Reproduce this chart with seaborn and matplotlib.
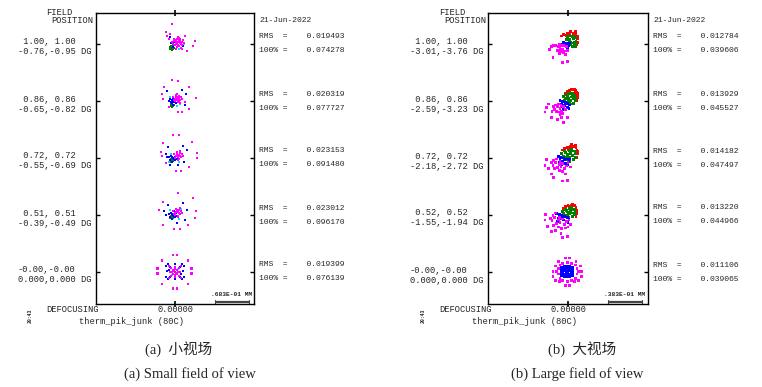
import matplotlib
matplotlib.use("Agg")
import matplotlib.pyplot as plt
import numpy as np
import pandas as pd
import seaborn as sns
from matplotlib.transforms import blended_transform_factory, offset_copy

sns.set_style("white")
plt.rcParams["font.family"] = ["Liberation Mono", "DejaVu Sans Mono"]

W, H = 762, 387

# ---- data: spot offsets in micrometres, one list per field (top to bottom) ----
SMALL_ANGLES = [(" 1.00, 1.00", "-0.76,-0.95 DG"),
                (" 0.86, 0.86", "-0.65,-0.82 DG"),
                (" 0.72, 0.72", "-0.55,-0.69 DG"),
                (" 0.51, 0.51", "-0.39,-0.49 DG"),
                ("-0.00,-0.00", "0.000,0.000 DG")]
LARGE_ANGLES = [(" 1.00, 1.00", "-3.01,-3.76 DG"),
                (" 0.86, 0.86", "-2.59,-3.23 DG"),
                (" 0.72, 0.72", "-2.18,-2.72 DG"),
                (" 0.52, 0.52", "-1.55,-1.94 DG"),
                ("-0.00,-0.00", "0.000,0.000 DG")]

SMALL_RMS = ["0.019493", "0.020319", "0.023153", "0.023012", "0.019399"]
SMALL_100 = ["0.074278", "0.077727", "0.091480", "0.096170", "0.076139"]
LARGE_RMS = ["0.012784", "0.013929", "0.014182", "0.013220", "0.011106"]
LARGE_100 = ["0.039606", "0.045527", "0.047497", "0.044966", "0.039065"]

SMALL_SCALE = ".683E-01 MM"
LARGE_SCALE = ".383E-01 MM"
SMALL_BAR_UM = 68.3
LARGE_BAR_UM = 38.3

SMALL_MAGENTA = [
    [(6, 4), (2, 2), (10, 6), (12, 0), (8, -4), (14, 4), (4, 10), (-2, 6), (8, 12), (16, 8),
     (4, -6), (12, -8), (0, -2), (-4, 0), (6, 14), (18, 2), (2, -10), (10, 2), (-6, 4), (14, -2),
     (0, 8), (4, 0), (8, 8), (10, 10), (6, -2), (2, 6), (12, 4), (-2, 10),
     (-6, 40), (-18, 24), (-16, 16), (40, 6), (36, -4), (24, -14), (14, -10), (-10, 20),
     (20, 16), (-12, 10)],
    [(-6, 42), (6, 40), (28, 28), (-22, 28), (-26, 14), (42, 6), (-24, 4), (28, -16), (6, -22),
     (14, -22), (-12, -12), (20, -2), (4, 6), (0, 4), (8, 10), (10, 2), (6, -2), (12, 8), (2, 12),
     (-4, 8), (14, 4), (8, 0), (0, 0), (4, 14), (10, -4), (-2, 2), (6, 8), (4, 2), (8, 4),
     (2, 8), (10, 8)],
    [(-4, 46), (8, 46), (-24, 30), (34, 32), (-28, 12), (44, 10), (-26, 4), (44, 0), (-18, -10),
     (28, -18), (2, -26), (12, -26), (6, 6), (2, 4), (10, 10), (12, 2), (8, -2), (14, 8), (4, 12),
     (-2, 8), (10, 14), (0, 0), (6, -4), (16, 4), (4, 8), (8, 6), (6, 2), (10, 4)],
    [(6, 44), (-24, 26), (36, 34), (-32, 10), (42, 8), (40, -6), (-24, -20), (26, -20), (-2, -28),
     (10, -28), (4, 6), (0, 4), (8, 10), (10, 2), (6, -2), (12, 8), (2, 12), (-4, 8), (10, 14),
     (0, 0), (6, -4), (14, 4), (-2, 2), (4, 10), (8, 4), (6, 8), (2, 6)],
    [(-4, 34), (4, 34), (-26, 23), (26, 23), (-35, 7), (33, 7), (-35, -3), (33, -3), (-26, -24),
     (26, -24), (-4, -33), (4, -33), (-12, 12), (12, 12), (-12, -12), (12, -12), (-8, 8), (8, 8),
     (-8, -8), (8, -8), (-4, 4), (4, 4), (-4, -4), (4, -4), (0, 6), (0, -6), (6, 0), (-6, 0),
     (0, 10), (0, -10), (10, 0), (-10, 0), (-2, 2), (2, -2)],
]
SMALL_BLUE = [
    [(-10, 14), (6, 12), (-4, -6), (10, 6), (-8, 2), (16, -4), (2, 0), (-2, 4)],
    [(-16, 20), (14, 22), (22, 14), (-12, 0), (20, -8), (-4, -8), (-6, 2), (-2, -2), (-8, -2),
     (0, 4), (-4, 6), (2, -4), (-10, 4), (-6, -4), (-4, 0), (-2, 2)],
    [(-14, 22), (16, 24), (24, 16), (-16, 2), (18, -8), (-10, -14), (6, -14), (-18, 8), (-4, 0),
     (-8, 4), (0, -4), (-10, -4), (2, 4), (-6, -8), (-2, 8), (4, -2), (-12, 2), (0, 2), (-6, 2),
     (-2, -2)],
    [(-14, 20), (16, 24), (24, 10), (-18, 0), (20, -10), (4, -16), (-22, 8), (-4, 0), (-8, 4),
     (0, -4), (-10, -4), (2, 4), (-6, -8), (-2, 8), (4, -2), (-12, 2), (0, 2), (-6, 2), (-2, -2)],
    [(-14, 16), (14, 16), (-14, -14), (14, -14), (-18, 12), (18, 12), (-18, -10), (18, -10),
     (-16, 2), (16, 2), (0, 16), (0, -14), (-10, 10), (10, 10), (-10, -10), (10, -10), (-12, 4),
     (12, -4)],
]
SMALL_GREEN = [
    [(-6, -8), (-10, -6), (-4, -4), (-8, -10), (-2, -8), (-6, -12), (-10, -10), (-4, -10),
     (-8, -4), (-6, -6), (-8, -8), (-4, -7)],
    [(-6, -8), (-8, -6), (-4, -10), (-8, -10), (-6, -12), (-2, -8), (-6, -5)],
    [(-6, -4), (-8, -2), (-4, -6), (-10, -6), (-7, -7)],
    [(-6, -4), (-8, -2), (-4, -6), (-10, -6), (-6, -8)],
    [],
]
SMALL_CYAN = [
    [(12, -8), (-2, 10), (8, -10), (18, 0)],
    [(10, -6), (-10, 8), (4, -10)],
    [(8, -8), (-8, 8), (-12, -8)],
    [(8, -8), (-10, 10), (12, 12)],
    [(-6, -6), (6, 6)],
]
SMALL_RED = [[], [], [], [], [(0, 0), (-2, 2), (2, -2)]]

LARGE_RED = [
    [(-5, 11), (-1, 12), (2, 12), (6, 12), (9, 11), (10, 9), (11, 6), (11, 2), (10, -1), (-7, 9),
     (3, 14), (8, 14), (11, 8), (-2, 10), (7, 10)],
    [(-1, 11), (2, 12), (5, 13), (8, 12), (10, 10), (11, 7), (11, 4), (10, 1), (-3, 9), (4, 14),
     (7, 14), (11, 9), (1, 10), (8, 9)],
    [(-4, 11), (-1, 12), (3, 13), (6, 13), (9, 12), (10, 9), (11, 5), (10, 1), (-6, 9), (4, 15),
     (8, 14), (11, 7), (1, 11)],
    [(-3, 9), (0, 10), (4, 11), (7, 10), (9, 8), (10, 5), (10, 1), (9, -2), (-5, 7), (5, 12),
     (10, 3), (2, 9)],
    [(-1, 0)],
]
LARGE_GREEN = [
    [(-1, 8), (2, 9), (6, 9), (8, 7), (9, 3), (9, 0), (8, -3), (5, -3), (1, -1), (-2, 5), (2, 5),
     (6, 6), (7, 2), (5, 1), (7, -1), (0, 7), (3, 2), (5, 8), (1, 2), (3, -1)],
    [(-5, 6), (-2, 8), (2, 9), (5, 9), (7, 7), (8, 4), (8, 1), (6, -2), (3, -3), (0, -1), (-3, 3),
     (1, 4), (4, 5), (6, 3), (3, 1), (-1, 6), (2, 0), (5, 7), (-4, 1), (0, 2)],
    [(-7, 5), (-4, 8), (0, 9), (4, 10), (7, 8), (8, 5), (8, 1), (6, -2), (2, -4), (-1, -2), (-5, 2),
     (-1, 4), (3, 5), (5, 3), (2, 1), (-3, 6), (0, 0), (5, 8), (-6, 0), (2, 8), (-2, 1)],
    [(-6, 4), (-3, 6), (1, 7), (4, 8), (7, 6), (8, 3), (7, 0), (5, -2), (1, -3), (-2, -1), (-5, 1),
     (-1, 3), (3, 4), (5, 2), (2, 1), (-2, 5), (0, 0), (4, 6)],
    [(-1, 0), (-2, 1), (0, -1)],
]
LARGE_BLUE = [
    [(-5, 2), (-2, 1), (0, 0), (-3, -2), (1, -2), (-1, -5), (-6, 0), (2, 1), (-2, -1), (0, -3)],
    [(-9, 1), (-6, 0), (-3, -1), (0, -2), (2, -4), (-7, -3), (-4, -5), (-1, -7), (-8, -6), (-5, -9),
     (1, -8), (-3, -3)],
    [(-11, 2), (-8, 1), (-5, 0), (-2, -1), (1, -3), (-9, -2), (-6, -4), (-3, -6), (-10, -5),
     (0, -7), (-7, -7), (-4, -2), (2, -1)],
    [(-13, 1), (-10, 0), (-7, -1), (-4, -2), (-1, -3), (1, -5), (-11, -4), (-8, -5), (-5, -6),
     (-2, -8), (-12, -8), (0, -9), (-6, -3)],
    [(-7, 5), (-4, 6), (-1, 6), (2, 6), (5, 5), (-7, 2), (5, 2), (-7, -1), (5, -1), (-7, -4),
     (5, -4), (-4, -5), (-1, -5), (2, -5), (-4, 2), (2, 2), (-4, -2), (2, -2), (-1, 3), (-1, -2),
     (-4, 4), (2, 4), (-6, 0), (4, 0), (-2, 0), (0, 0), (-4, -4), (2, -4), (-1, 1)],
]
LARGE_CYAN = [[], [], [], [], []]
LARGE_MAGENTA = [
    [(-9, -5), (-6, -6), (-11, -3), (-3, -8), (-7, -9), (-12, -7), (-2, -3), (-10, -1), (-5, -2),
     (-8, -7), (-14, -2), (-7, -2), (-5, -10), (-9, -8), (-1, -7), (-21, -6), (-17, -15), (-6, -21),
     (-1, -20), (-3, -12), (-16, -2), (-19, -3), (-10, -11)],
    [(-12, -6), (-9, -8), (-14, -4), (-7, -11), (-10, -12), (-15, -9), (-5, -6), (-11, -3),
     (-8, -5), (-13, -11), (-6, -14), (-3, -9), (-9, -15), (-16, -6), (-24, -7), (-22, -3),
     (-19, -18), (-7, -18), (-5, -24), (-1, -18), (-18, -11), (-26, -12), (-12, -20)],
    [(-14, -5), (-10, -7), (-16, -3), (-8, -10), (-12, -11), (-17, -8), (-6, -6), (-13, -1),
     (-9, -4), (-15, -12), (-4, -12), (-2, -9), (-10, -14), (-19, -5), (0, -5), (3, -10), (-6, -15),
     (-26, -8), (-24, -2), (-19, -18), (-6, -26), (-1, -25), (-22, -12), (-3, -18), (-16, -22)],
    [(-15, -3), (-11, -6), (-17, -1), (-9, -9), (-13, -10), (-18, -7), (-6, -5), (-14, 2),
     (-10, -3), (-16, -12), (-4, -11), (-2, -8), (-11, -14), (-20, -4), (1, -6), (3, -11),
     (-7, -16), (-3, -15), (0, -14), (-26, -6), (-25, 0), (-19, -19), (-6, -26), (-1, -25),
     (-23, -13), (-8, -21), (-14, -18)],
    [(-3, 16), (2, 16), (-11, 12), (9, 12), (-14, 7), (14, 7), (-17, 1), (15, 1), (-17, -5),
     (15, -5), (-14, -9), (12, -9), (-10, -11), (7, -11), (-3, -15), (2, -15), (-11, 4), (-11, -2),
     (10, 4), (10, -2), (-6, 10), (4, 10), (-6, -9), (4, -9), (-9, 8), (8, 8), (-9, -7), (8, -7),
     (-1, 11), (-1, -11), (-13, 1), (12, 1)],
]

COLORS = {"red": "#ff0000", "green": "#008000", "blue": "#0000ff",
          "cyan": "#00e0ff", "magenta": "#ff00ff"}

mono = ["Liberation Mono", "DejaVu Sans Mono"]
serif_cjk = ["Liberation Serif", "Noto Sans CJK SC"]


def spot_frame(centers, colour_lists):
    rows = []
    for name, lists in colour_lists:
        for yc, pts in zip(centers, lists):
            for dx, dy in pts:
                rows.append((dx, yc + dy, name))
    return pd.DataFrame(rows, columns=["x", "y", "wave"])


def fig_xy(x_px, y_px):
    return x_px / W, 1 - y_px / H


def draw_panel(fig, rect, xlim, ylim, centers, colour_lists, angles, rms, full,
               scale_text, bar_um, bar_x0, left_px, right_px, foot_px, caption_cn, caption_en,
               cap_cx):
    ax = fig.add_axes(rect)
    df = spot_frame(centers, colour_lists)
    sns.scatterplot(data=df, x="x", y="y", hue="wave", palette=COLORS, marker="s",
                    s=4, linewidth=0, legend=False, ax=ax)
    ax.set_xlim(*xlim)
    ax.set_ylim(*ylim)
    ax.set_xlabel("")
    ax.set_ylabel("")
    for sp in ax.spines.values():
        sp.set_color("black")
        sp.set_linewidth(1.0)
    ax.set_yticks(centers)
    ax.set_yticklabels([])
    ax.tick_params(axis="y", direction="in", length=3, width=1, left=True, right=True,
                   colors="black")
    ax.set_xticks([0])
    ax.set_xticklabels([])
    ax.tick_params(axis="x", direction="inout", length=5, width=1.2, bottom=True, top=True,
                   colors="black")

    # scale bar
    yspan = ylim[1] - ylim[0]
    by = 0.007 * yspan
    ax.plot([bar_x0, bar_x0 + bar_um], [by, by], color="#444444", lw=1.6,
            solid_capstyle="butt", clip_on=False)
    for bx in (bar_x0, bar_x0 + bar_um):
        ax.plot([bx, bx], [by - 0.006 * yspan, by + 0.006 * yspan], color="#444444",
                lw=0.8, clip_on=False)
    ax.text(bar_x0 + bar_um / 2, by + 0.018 * yspan, scale_text, ha="center",
            va="bottom", fontsize=4.5, family=mono, fontweight="bold")

    tr = blended_transform_factory(fig.transFigure, ax.transData)
    for yc, (l1, l2), r, f in zip(centers, angles, rms, full):
        t1 = offset_copy(tr, fig=fig, x=0, y=2, units="dots")
        t2 = offset_copy(tr, fig=fig, x=0, y=-8, units="dots")
        ax.text(left_px / W, yc, l1, transform=t1, ha="left", va="center", fontsize=6.3,
                family=mono)
        ax.text(left_px / W, yc, l2, transform=t2, ha="left", va="center", fontsize=6.3,
                family=mono)
        t3 = offset_copy(tr, fig=fig, x=0, y=7, units="dots")
        t4 = offset_copy(tr, fig=fig, x=0, y=-7, units="dots")
        ax.text(right_px / W, yc, "RMS  =    " + r, transform=t3, ha="left", va="center",
                fontsize=5.8, family=mono)
        ax.text(right_px / W, yc, "100% =    " + f, transform=t4, ha="left", va="center",
                fontsize=5.8, family=mono)

    # defocus value under the centre tick
    trx = blended_transform_factory(ax.transData, fig.transFigure)
    ax.text(0, 1 - 309.5 / H, "0.00000", transform=trx, ha="center", va="center",
            fontsize=6.2, family=mono)

    fig.text(*fig_xy(right_px, 20), "21-Jun-2022", ha="left", va="center", fontsize=5.8,
             family=mono)
    fig.text(*fig_xy(foot_px, 12.5), "FIELD", ha="left", va="center", fontsize=6.3,
             family=mono)
    fig.text(*fig_xy(foot_px + 5.5, 20.5), "POSITION", ha="left", va="center", fontsize=6.3,
             family=mono)
    fig.text(*fig_xy(foot_px, 309.5), "DEFOCUSING", ha="left", va="center", fontsize=6.3,
             family=mono)
    fig.text(*fig_xy(foot_px + 33, 321), "therm_pik_junk (80C)", ha="left", va="center",
             fontsize=6.3, family=mono)
    fig.text(*fig_xy(foot_px - 16, 316), "20:43", rotation=90, ha="center", va="center",
             fontsize=3.5, family=mono, fontweight="bold")

    fig.text(*fig_xy(cap_cx[0], 349), caption_cn, ha="center", va="center", fontsize=10.5,
             family=serif_cjk)
    fig.text(*fig_xy(cap_cx[1], 374), caption_en, ha="center", va="center", fontsize=10.5,
             family=serif_cjk)
    return ax


fig = plt.figure(figsize=(W / 100, H / 100), dpi=100)

small_lists = [("red", SMALL_RED), ("green", SMALL_GREEN), ("blue", SMALL_BLUE),
               ("cyan", SMALL_CYAN), ("magenta", SMALL_MAGENTA)]
large_lists = [("red", LARGE_RED), ("green", LARGE_GREEN), ("blue", LARGE_BLUE),
               ("cyan", LARGE_CYAN), ("magenta", LARGE_MAGENTA)]

draw_panel(fig, [96 / W, 1 - 304 / H, 158 / W, 291 / H], (-158, 158), (0, 582),
           [520, 406, 292, 178, 64], small_lists, SMALL_ANGLES, SMALL_RMS, SMALL_100,
           SMALL_SCALE, SMALL_BAR_UM, 80, 17.5, 259, 46, "(a)  小视场",
           "(a) Small field of view", (179, 190))
draw_panel(fig, [488 / W, 1 - 304 / H, 160 / W, 291 / H], (-90, 90), (0, 329),
           [294, 229, 165, 101, 36], large_lists, LARGE_ANGLES, LARGE_RMS, LARGE_100,
           LARGE_SCALE, LARGE_BAR_UM, 45, 410, 653, 439, "(b)  大视场",
           "(b) Large field of view", (582, 577))

fig.savefig("out.png", dpi=100)
